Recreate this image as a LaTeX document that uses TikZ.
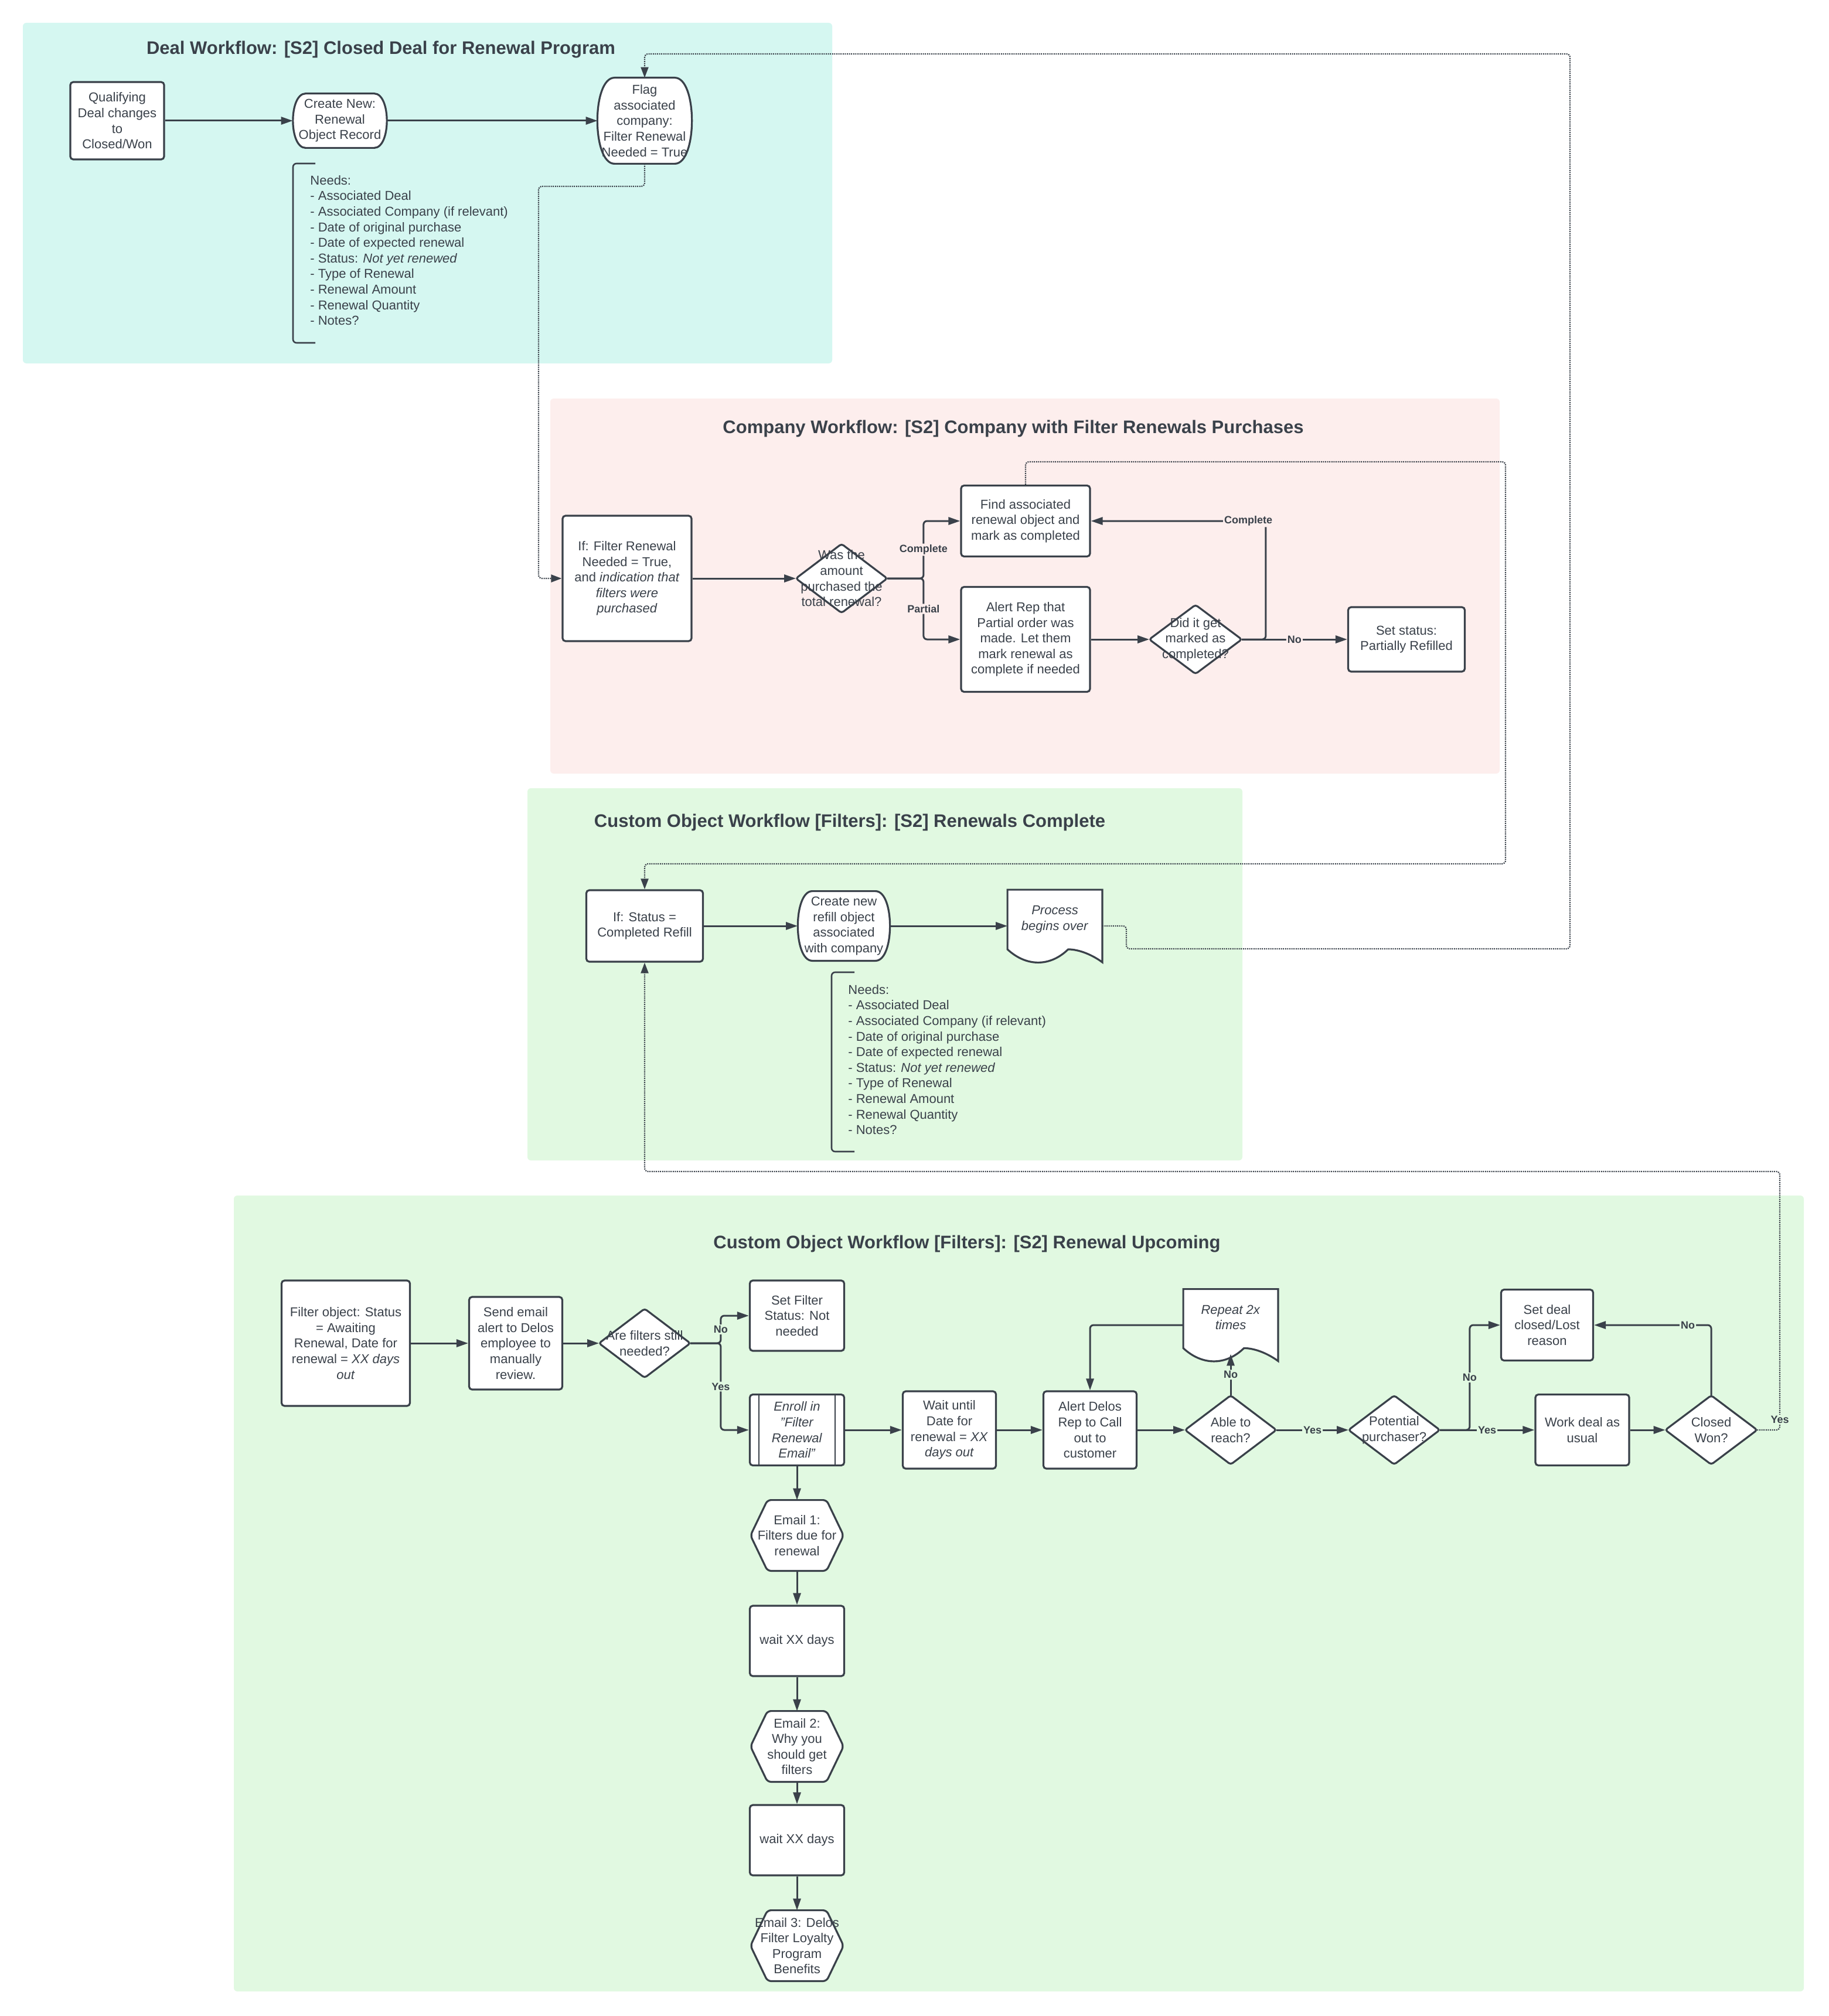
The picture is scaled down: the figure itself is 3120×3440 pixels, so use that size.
\documentclass[tikz,border=0pt]{standalone}
\usepackage{fontspec}
\setmainfont{Liberation Sans}
\usetikzlibrary{calc,arrows.meta}
\pgfdeclarelayer{bg}\pgfdeclarelayer{shp}
\pgfsetlayers{bg,shp,main}
\definecolor{ink}{RGB}{58,65,74}
\definecolor{cyanbg}{RGB}{213,247,241}
\definecolor{pinkbg}{RGB}{253,238,237}
\definecolor{greenbg}{RGB}{225,249,225}
\tikzset{
  every node/.style={text=ink, font=\fontsize{11}{13.3}\selectfont},
  sz/.style 2 args={minimum width=#1*0.5pt, minimum height=#2*0.5pt},
  box/.style={draw=ink, fill=white, line width=1.6pt, rounded corners=2.5pt, align=center, inner sep=1pt},
  plain/.style={align=center, inner sep=1pt},
  shapeline/.style={draw=ink, fill=white, line width=1.6pt},
  conn/.style={draw=ink, line width=1.5pt, rounded corners=3pt, -{Triangle[length=10pt,width=6.5pt]}},
  dotconn/.style={draw=ink, line width=1.1pt, dash pattern=on 1pt off 0.8pt, rounded corners=3pt, -{Triangle[length=9pt,width=6.5pt]}},
  lab/.style={font=\fontsize{9}{10}\selectfont\bfseries, inner sep=1pt, text=ink},
  ttl/.style={font=\fontsize{15.5}{18}\selectfont\bfseries},
  needs/.style={anchor=north west, align=left, inner sep=0pt},
  brk/.style={draw=ink, line width=1.3pt, rounded corners=3pt},
}
% #1 node, #2 depth of the curved side, #3 control offset (= 4/3*#2 - #2)
\newcommand\drawstad[3]{\draw[shapeline] ($(#1.north west)+(#2,0)$) -- ($(#1.north east)+(-#2,0)$) .. controls ($(#1.north east)+(#3,0)$) and ($(#1.south east)+(#3,0)$) .. ($(#1.south east)+(-#2,0)$) -- ($(#1.south west)+(#2,0)$) .. controls ($(#1.south west)+(-#3,0)$) and ($(#1.north west)+(-#3,0)$) .. cycle;}
\newcommand\drawdiam[1]{\draw[shapeline, rounded corners=2pt] (#1.north) -- (#1.east) -- (#1.south) -- (#1.west) -- cycle;}
\newcommand\drawhex[1]{\draw[shapeline, rounded corners=3pt] ($(#1.north west)+(29,0)$) -- ($(#1.north east)+(-29,0)$) -- (#1.east) -- ($(#1.south east)+(-29,0)$) -- ($(#1.south west)+(29,0)$) -- (#1.west) -- cycle;}
\newcommand\drawdoc[1]{\draw[shapeline] (#1.north west) -- (#1.north east) -- (#1.south east) .. controls ($0.1*(#1.south west)+0.9*(#1.south east)+(0,-12)$) and ($0.24*(#1.south west)+0.76*(#1.south east)+(0,-22)$) .. ($0.36*(#1.south west)+0.64*(#1.south east)+(0,-22)$) .. controls ($0.55*(#1.south west)+0.45*(#1.south east)+(0,8)$) and ($0.8*(#1.south west)+0.2*(#1.south east)+(0,8)$) .. ($(#1.south west)+(0,-22)$) -- cycle;}
\begin{document}
\begin{tikzpicture}[x=0.5pt, y=-0.5pt]
\useasboundingbox (0,0) rectangle (3120,3440);
\begin{pgfonlayer}{bg}
\fill[white] (0,0) rectangle (3120,3440);
\fill[cyanbg, rounded corners=3pt] (39,39) rectangle (1420,620);
\fill[pinkbg, rounded corners=3pt] (939,680) rectangle (2559,1320);
\fill[greenbg, rounded corners=3pt] (900,1345) rectangle (2120,1980);
\fill[greenbg, rounded corners=3pt] (399,2040) rectangle (3078,3398);
\end{pgfonlayer}

% titles
\node[ttl] (t1) at (650,85) {Deal Workflow: [S2] Closed Deal for Renewal Program};
\node[ttl] (t2) at (1729,731) {Company Workflow: [S2] Company with Filter Renewals Purchases};
\node[ttl] (t3) at (1450,1403) {Custom Object Workflow [Filters]: [S2] Renewals Complete};
\node[ttl] (t4) at (1650,2123) {Custom Object Workflow [Filters]: [S2] Renewal Upcoming};

% section 1
\node[box, sz={160}{132}] (q) at (200,206) {Qualifying\\Deal changes\\to\\Closed/Won};
\node[plain, sz={160}{92}] (cn) at (580,206) {Create New:\\Renewal\\Object Record};
\node[plain, sz={160}{146}] (flag) at (1100,206) {Flag\\associated\\company:\\Filter Renewal\\Needed = True};
\node[needs] (needs1) at (529,299) {Needs:\\- Associated Deal\\- Associated Company (if relevant)\\- Date of original purchase\\- Date of expected renewal\\- Status: \textit{Not yet renewed}\\- Type of Renewal\\- Renewal Amount\\- Renewal Quantity\\- Notes?};
\draw[brk] (538,279) -- (500,279) -- (500,585) -- (538,585);

% section 2
\node[box, sz={220}{214}] (iffr) at (1070,987) {If: Filter Renewal\\Needed = True,\\and \textit{indication that}\\\textit{filters were}\\\textit{purchased}};
\node[plain, sz={155}{117}] (q1) at (1436,987) {Was the\\amount\\purchased the\\total renewal?};
\node[box, sz={220}{121}] (find) at (1750,889) {Find associated\\renewal object and\\mark as completed};
\node[box, sz={220}{179}] (alert) at (1750,1091) {Alert Rep that\\Partial order was\\made. Let them\\mark renewal as\\complete if needed};
\node[plain, sz={157}{117}] (q2) at (2040,1091) {Did it get\\marked as\\completed?};
\node[box, sz={199}{110}] (ss) at (2400,1091) {Set status:\\Partially Refilled};

% section 3
\node[box, sz={199}{122}] (ifst) at (1100,1580) {If: Status =\\Completed Refill};
\node[plain, sz={157}{118}] (cnr) at (1440,1580) {Create new\\refill object\\associated\\with company};
\node[plain, sz={161}{123}] (proc) at (1800,1580) {\textit{Process}\\\textit{begins over}\\\mbox{}};
\node[needs] (needs2) at (1447,1680) {Needs:\\- Associated Deal\\- Associated Company (if relevant)\\- Date of original purchase\\- Date of expected renewal\\- Status: \textit{Not yet renewed}\\- Type of Renewal\\- Renewal Amount\\- Renewal Quantity\\- Notes?};
\draw[brk] (1458,1659) -- (1419,1659) -- (1419,1965) -- (1458,1965);

% section 4
\node[box, sz={219}{214}] (fo) at (590,2292) {Filter object: Status\\= Awaiting\\Renewal, Date for\\renewal = \textit{XX days}\\\textit{out}};
\node[box, sz={159}{158}] (se) at (880,2292) {Send email\\alert to Delos\\employee to\\manually\\review.};
\node[plain, sz={155}{117}] (q3) at (1100,2292) {Are filters still\\needed?};
\node[box, sz={161}{120}] (sfs) at (1360,2245) {Set Filter\\Status: Not\\needed};
\node[box, sz={161}{121}] (enr) at (1360,2440) {\textit{Enroll in}\\\textit{"Filter}\\\textit{Renewal}\\\textit{Email"}};
\node[box, sz={159}{132}] (wt) at (1620,2440) {Wait until\\Date for\\renewal = \textit{XX}\\\textit{days out}};
\node[box, sz={159}{132}] (ad) at (1860,2440) {Alert Delos\\Rep to Call\\out to\\customer};
\node[plain, sz={155}{117}] (q4) at (2100,2440) {Able to\\reach?};
\node[plain, sz={161}{122}] (rep) at (2100,2261) {\textit{Repeat 2x}\\\textit{times}\\\mbox{}};
\node[plain, sz={155}{117}] (q5) at (2379,2440) {Potential\\purchaser?};
\node[box, sz={157}{121}] (sdc) at (2640,2261) {Set deal\\closed/Lost\\reason};
\node[box, sz={160}{121}] (wd) at (2700,2440) {Work deal as\\usual};
\node[plain, sz={156}{117}] (cw) at (2920,2440) {Closed\\Won?};
\node[plain, sz={158}{120}] (e1) at (1360,2620) {Email 1:\\Filters due for\\renewal};
\node[box, sz={161}{120}] (w1) at (1360,2800) {wait XX days};
\node[plain, sz={158}{120}] (e2) at (1360,2980) {Email 2:\\Why you\\should get\\filters};
\node[box, sz={161}{120}] (w2) at (1360,3140) {wait XX days};
\node[plain, sz={158}{120}] (e3) at (1360,3320) {Email 3: Delos\\Filter Loyalty\\Program\\Benefits};

% custom outlines
\begin{pgfonlayer}{shp}
\drawstad{cn}{22}{7}
\drawstad{flag}{29}{10}
\drawstad{cnr}{25}{8}
\drawdiam{q1}
\drawdiam{q2}
\drawdiam{q3}
\drawdiam{q4}
\drawdiam{q5}
\drawdiam{cw}
\drawdoc{proc}
\drawdoc{rep}
\drawhex{e1}
\drawhex{e2}
\drawhex{e3}
\end{pgfonlayer}
\draw[ink, line width=1.3pt] ($(enr.north west)+(17,0)$) -- ($(enr.south west)+(17,0)$);
\draw[ink, line width=1.3pt] ($(enr.north east)+(-17,0)$) -- ($(enr.south east)+(-17,0)$);

% connectors section 1
\draw[conn] (q.east) -- (cn.west);
\draw[conn] (cn.east) -- (flag.west);
\draw[dotconn] (flag.south) |- (919,318) |- (iffr.west);
\draw[dotconn] (proc.east) -| (1922,1619) -| (2679,92) -| (flag.north);

% connectors section 2
\draw[conn] (iffr.east) -- (q1.west);
\draw[conn] (q1.east) -- ++(62,0) |- node[lab, pos=0.25, fill=pinkbg] {Complete} (find.west);
\draw[conn] (q1.east) -- ++(62,0) |- node[lab, pos=0.25, fill=pinkbg] {Partial} (alert.west);
\draw[conn] (alert.east) -- (q2.west);
\draw[conn] (q2.east) -- node[lab, fill=pinkbg] {No} (ss.west);
\draw[conn] (q2.east) -- ++(41,0) |- node[lab, pos=0.55, fill=pinkbg] {Complete} (find.east);
\draw[dotconn] (find.north) |- (2569,788) |- (1100,1474) -- (ifst.north);

% connectors section 3
\draw[conn] (ifst.east) -- (cnr.west);
\draw[conn] (cnr.east) -- (proc.west);
\draw[dotconn] (cw.east) -| node[lab, pos=0.52, fill=greenbg] {Yes} (3037,1999) -| (ifst.south);

% connectors section 4
\draw[conn] (fo.east) -- (se.west);
\draw[conn] (se.east) -- (q3.west);
\draw[conn] (q3.east) -- ++(52,0) |- node[lab, pos=0.25, fill=greenbg] {No} (sfs.west);
\draw[conn] (q3.east) -- ++(52,0) |- node[lab, pos=0.25, fill=greenbg] {Yes} (enr.west);
\draw[conn] (enr.east) -- (wt.west);
\draw[conn] (wt.east) -- (ad.west);
\draw[conn] (ad.east) -- (q4.west);
\draw[conn] (q4.north) -- node[lab, fill=greenbg] {No} ($(rep.south)+(0,-12)$);
\draw[conn] (rep.west) -| (ad.north);
\draw[conn] (q4.east) -- node[lab, fill=greenbg] {Yes} (q5.west);
\draw[conn] (q5.east) -- ++(51,0) |- node[lab, pos=0.25, fill=greenbg] {No} (sdc.west);
\draw[conn] (q5.east) -- node[lab, fill=greenbg] {Yes} (wd.west);
\draw[conn] (wd.east) -- (cw.west);
\draw[conn] (cw.north) |- node[lab, pos=0.6, fill=greenbg] {No} (sdc.east);
\draw[conn] (enr.south) -- (e1.north);
\draw[conn] (e1.south) -- (w1.north);
\draw[conn] (w1.south) -- (e2.north);
\draw[conn] (e2.south) -- (w2.north);
\draw[conn] (w2.south) -- (e3.north);
\end{tikzpicture}
\end{document}
